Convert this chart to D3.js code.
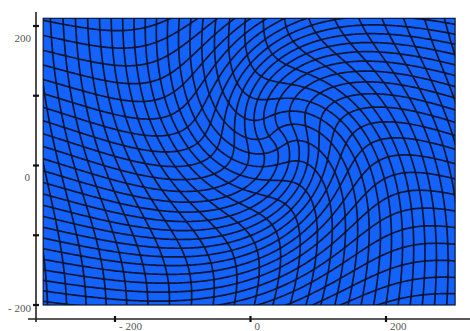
<!DOCTYPE html>
<html>
<head>
<meta charset="utf-8">
<script src="https://cdn.jsdelivr.net/npm/d3@7"></script>
<style>
  body { margin: 0; background: #fff; }
  svg { display: block; }
  .lbl { font-family: "Liberation Serif", serif; font-size: 11px; fill: #555; }
</style>
</head>
<body>
<div id="chart"></div>
<script>
// axis ticks and labels
const xTicks = [-200, 0, 200];
const yTicks = [200, 100, 0, -100, -200];
const yLabels = [200, 0, -200];

// warped mesh: extent in data units, number of cells, swirl parameters
const meshX = [-306, 302];
const meshY = [-200, 211];
const gridCells = [26, 23];
const swirlCenter = [38, 42];
const swirlStrength = [2.4, 145]; // angle at centre (rad), falloff radius

const width = 470, height = 331;

const svg = d3.select('#chart').append('svg')
  .attr('width', width)
  .attr('height', height);

const x = d3.scaleLinear().domain([-200, 200]).range([115, 386]);
const y = d3.scaleLinear().domain([-200, 200]).range([305, 26]);

// swirl: rotate around centre, angle decays with distance
function warp(p) {
  const dx = p[0] - swirlCenter[0], dy = p[1] - swirlCenter[1];
  const r = Math.sqrt(dx * dx + dy * dy);
  const a = swirlStrength[0] * Math.exp(-r / swirlStrength[1]);
  const c = Math.cos(a), s = Math.sin(a);
  return [swirlCenter[0] + dx * c - dy * s, swirlCenter[1] + dx * s + dy * c];
}

const cw = (meshX[1] - meshX[0]) / gridCells[0];
const ch = (meshY[1] - meshY[0]) / gridCells[1];
const ext = 24;

svg.append('clipPath').attr('id', 'meshClip')
  .append('rect')
  .attr('x', x(meshX[0])).attr('y', y(meshY[1]))
  .attr('width', x(meshX[1]) - x(meshX[0]))
  .attr('height', y(meshY[0]) - y(meshY[1]));

svg.append('rect')
  .attr('x', x(meshX[0])).attr('y', y(meshY[1]))
  .attr('width', x(meshX[1]) - x(meshX[0]))
  .attr('height', y(meshY[0]) - y(meshY[1]))
  .attr('fill', '#1262fb');

const lines = [];
const yLo = meshY[0] - ext * ch, yHi = meshY[1] + ext * ch;
const xLo = meshX[0] - ext * cw, xHi = meshX[1] + ext * cw;
d3.range(-ext, gridCells[0] + ext + 1).forEach(i => {
  const gx = meshX[0] + i * cw;
  lines.push(d3.range(yLo, yHi + 1, 2).map(v => warp([gx, v])));
});
d3.range(-ext, gridCells[1] + ext + 1).forEach(j => {
  const gy = meshY[0] + j * ch;
  lines.push(d3.range(xLo, xHi + 1, 2).map(v => warp([v, gy])));
});

const line = d3.line()
  .x(d => x(d[0]))
  .y(d => y(d[1]));

svg.append('g')
  .attr('clip-path', 'url(#meshClip)')
  .selectAll('path')
  .data(lines)
  .join('path')
  .attr('d', line)
  .attr('fill', 'none')
  .attr('stroke', '#0a1633')
  .attr('stroke-width', 1.7);

svg.append('rect')
  .attr('x', x(meshX[0])).attr('y', y(meshY[1]))
  .attr('width', x(meshX[1]) - x(meshX[0]))
  .attr('height', y(meshY[0]) - y(meshY[1]))
  .attr('fill', 'none')
  .attr('stroke', '#0a1633')
  .attr('stroke-width', 1.2);

// axes
const axisX = 36, axisY = 319;
svg.append('line')
  .attr('x1', axisX).attr('x2', axisX).attr('y1', 12).attr('y2', 322)
  .attr('stroke', '#222').attr('stroke-width', 1.6);
svg.append('line')
  .attr('x1', 28).attr('x2', width).attr('y1', axisY).attr('y2', axisY)
  .attr('stroke', '#222').attr('stroke-width', 1.6);

svg.append('g').selectAll('line')
  .data(yTicks)
  .join('line')
  .attr('x1', axisX - 3).attr('x2', axisX + 3)
  .attr('y1', d => y(d)).attr('y2', d => y(d))
  .attr('stroke', '#111').attr('stroke-width', 2.2);

svg.append('g').selectAll('line')
  .data(xTicks)
  .join('line')
  .attr('x1', d => x(d)).attr('x2', d => x(d))
  .attr('y1', axisY - 3).attr('y2', axisY + 3)
  .attr('stroke', '#111').attr('stroke-width', 2.2);

const fmt = v => v < 0 ? '- ' + Math.abs(v) : String(v);

svg.append('g').selectAll('text')
  .data(yLabels)
  .join('text')
  .attr('class', 'lbl')
  .attr('x', d => d === 0 ? 30 : 31)
  .attr('y', d => y(d) + (d === -200 ? 3 : 12))
  .attr('dy', '0.35em')
  .attr('text-anchor', 'end')
  .text(fmt);

svg.append('g').selectAll('text')
  .data(xTicks)
  .join('text')
  .attr('class', 'lbl')
  .attr('x', d => x(d) + 4)
  .attr('y', 330)
  .text(fmt);
</script>
</body>
</html>
